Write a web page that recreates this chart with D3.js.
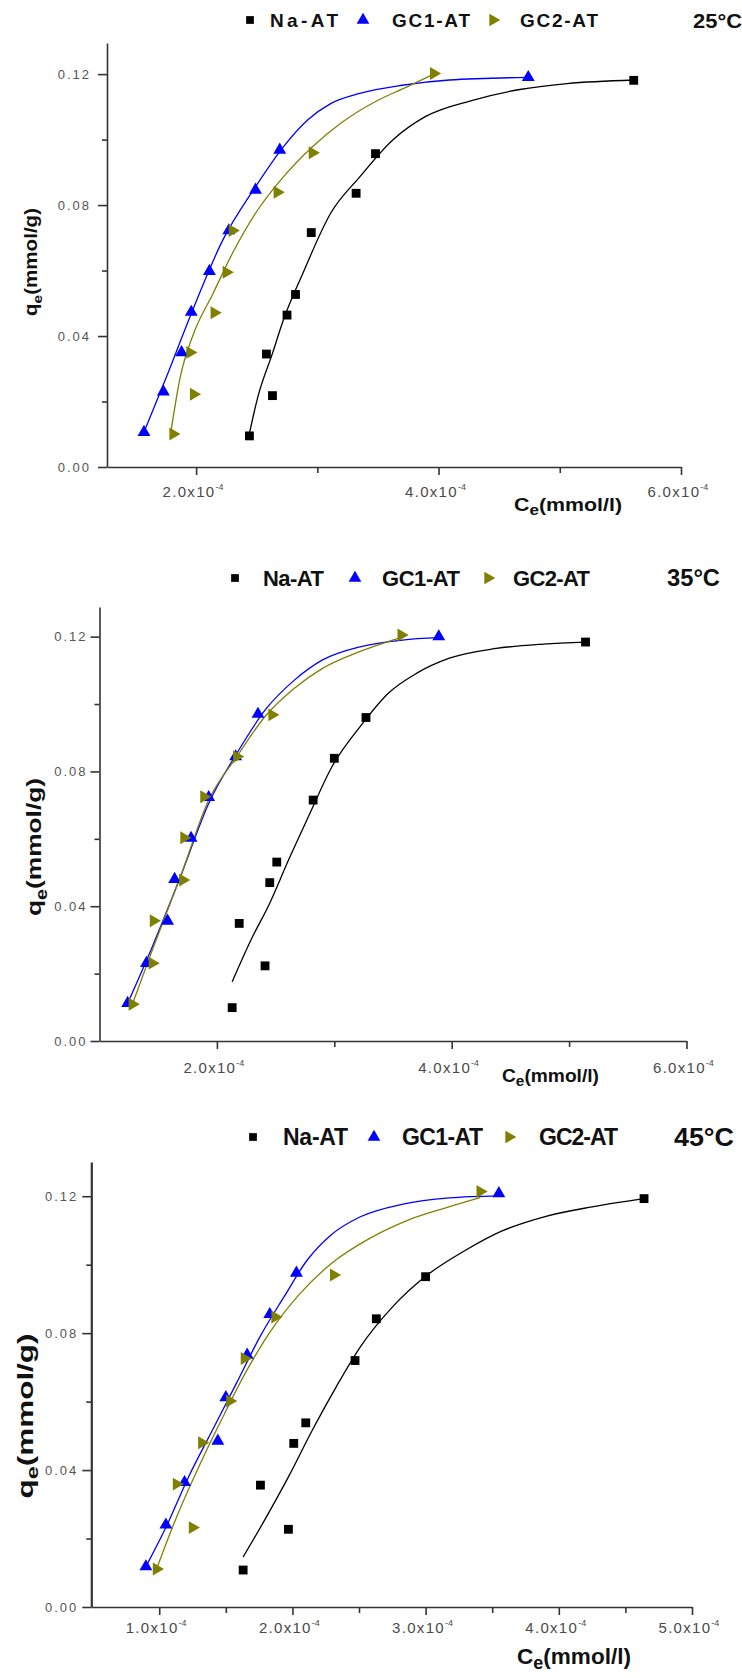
<!DOCTYPE html>
<html>
<head>
<meta charset="utf-8">
<script src="https://cdn.jsdelivr.net/npm/d3@7"></script>
<style>
  body { margin: 0; background: #fff; }
  svg { display: block; font-family: "Liberation Sans", Arial, sans-serif; }
  .tick text { fill: #555; }
  .domain, .tick line { stroke: #333; stroke-width: 1.6; }
</style>
</head>
<body>
<svg id="chart" width="742" height="1678"></svg>
<script>
// Ce in units of 1e-4 mmol/l, qe in mmol/g
const series_names = ['Na-AT', 'GC1-AT', 'GC2-AT'];
const series_colors = ['#000000', '#0000FF', '#808000'];
const temps = ['25°C', '35°C', '45°C'];

const y_major = [0, 0.04, 0.08, 0.12];
const y_minor = [0.02, 0.06, 0.10];
const x_major_25 = [2, 4, 6], x_minor_25 = [3, 5];
const x_major_35 = [2, 4, 6], x_minor_35 = [3, 5];
const x_major_45 = [1, 2, 3, 4, 5], x_minor_45 = [1.5, 2.5, 3.5, 4.5];

// 25°C
const na_25 = [[2.44,0.0095],[2.58,0.0345],[2.63,0.0218],[2.75,0.0464],[2.82,0.0527],[2.95,0.0716],[3.32,0.0836],[3.48,0.0957],[5.61,0.1181]];
const gc1_25 = [[1.57,0.0106],[1.73,0.0230],[1.88,0.0350],[1.96,0.0473],[2.11,0.0598],[2.27,0.0722],[2.49,0.0846],[2.69,0.0968],[4.74,0.1190]];
const gc2_25 = [[1.81,0.0101],[1.98,0.0222],[1.95,0.0350],[2.15,0.0471],[2.25,0.0595],[2.30,0.0722],[2.67,0.0839],[2.96,0.0960],[3.96,0.1202]];
const na_25_fit = [[2.44,0.0103],[2.51,0.0215],[2.63,0.0347],[2.72,0.0449],[2.88,0.0591],[3.11,0.0775],[3.35,0.0886],[3.62,0.0998],[3.89,0.1070],[4.28,0.1120],[4.67,0.1153],[5.06,0.1171],[5.61,0.1182]];
const gc1_25_fit = [[1.57,0.0106],[1.75,0.0270],[1.95,0.0459],[2.22,0.0693],[2.49,0.0856],[2.72,0.0978],[2.92,0.1060],[3.11,0.1110],[3.35,0.1141],[3.70,0.1166],[4.09,0.1182],[4.74,0.1190]];
const gc2_25_fit = [[1.79,0.0103],[1.87,0.0276],[1.98,0.0408],[2.14,0.0530],[2.30,0.0653],[2.49,0.0775],[2.72,0.0886],[2.96,0.0978],[3.19,0.1049],[3.50,0.1120],[3.74,0.1161],[3.96,0.1200]];

// 35°C
const na_35 = [[2.13,0.0099],[2.19,0.0349],[2.41,0.0223],[2.45,0.0470],[2.51,0.0531],[2.82,0.0715],[3.00,0.0839],[3.27,0.0960],[5.14,0.1184]];
const gc1_35 = [[1.24,0.0112],[1.40,0.0231],[1.58,0.0356],[1.64,0.0480],[1.78,0.0602],[1.93,0.0723],[2.16,0.0844],[2.35,0.0970],[3.89,0.1200]];
const gc2_35 = [[1.28,0.0109],[1.45,0.0231],[1.46,0.0357],[1.71,0.0478],[1.72,0.0603],[1.89,0.0725],[2.17,0.0844],[2.47,0.0968],[3.57,0.1205]];
const na_35_fit = [[2.13,0.0176],[2.29,0.0300],[2.45,0.0409],[2.61,0.0537],[2.78,0.0666],[2.98,0.0814],[3.22,0.0933],[3.46,0.1032],[3.70,0.1091],[3.98,0.1136],[4.38,0.1165],[4.78,0.1178],[5.14,0.1184]];
const gc1_35_fit = [[1.24,0.0112],[1.45,0.0280],[1.69,0.0488],[1.93,0.0705],[2.17,0.0854],[2.41,0.0982],[2.66,0.1071],[2.90,0.1131],[3.22,0.1170],[3.58,0.1190],[3.89,0.1197]];
const gc2_35_fit = [[1.28,0.0109],[1.45,0.0270],[1.69,0.0488],[1.93,0.0715],[2.17,0.0844],[2.41,0.0963],[2.66,0.1047],[2.90,0.1106],[3.22,0.1156],[3.57,0.1198]];

// 45°C
const na_45 = [[1.63,0.0108],[1.76,0.0356],[1.97,0.0227],[2.01,0.0478],[2.10,0.0538],[2.47,0.0720],[2.63,0.0842],[3.00,0.0965],[4.64,0.1193]];
const gc1_45 = [[0.90,0.0118],[1.05,0.0240],[1.19,0.0364],[1.44,0.0485],[1.50,0.0612],[1.66,0.0736],[1.83,0.0855],[2.03,0.0976],[3.55,0.1208]];
const gc2_45 = [[0.98,0.0111],[1.25,0.0232],[1.13,0.0359],[1.32,0.0480],[1.53,0.0602],[1.64,0.0726],[1.87,0.0847],[2.31,0.0970],[3.41,0.1214]];
const na_45_fit = [[1.63,0.0146],[1.79,0.0253],[1.97,0.0380],[2.15,0.0517],[2.33,0.0644],[2.51,0.0760],[2.75,0.0876],[3.00,0.0966],[3.29,0.1040],[3.57,0.1098],[3.89,0.1140],[4.25,0.1169],[4.64,0.1193]];
const gc1_45_fit = [[0.90,0.0118],[1.05,0.0232],[1.22,0.0380],[1.40,0.0517],[1.58,0.0654],[1.76,0.0792],[1.94,0.0908],[2.11,0.1013],[2.29,0.1087],[2.51,0.1140],[2.83,0.1177],[3.18,0.1195],[3.55,0.1201]];
const gc2_45_fit = [[0.98,0.0111],[1.12,0.0253],[1.30,0.0412],[1.47,0.0549],[1.65,0.0686],[1.83,0.0802],[2.04,0.0908],[2.29,0.1003],[2.58,0.1077],[2.86,0.1129],[3.15,0.1166],[3.41,0.1196]];

// layout of each panel (pixel positions of the original figure)
const panels = [
  { points: [na_25, gc1_25, gc2_25], fits: [na_25_fit, gc1_25_fit, gc2_25_fit],
    xMajor: x_major_25, xMinor: x_minor_25, xDom: [1.265, 6.0], yMax: 0.1295,
    x0: 107, x1: 681, yTop: 43, yBot: 467, xPad: 11, yPad: 7, axisW: 1.6,
    legY: 20, legSym: [250, 363, 493], legText: [270, 392, 520], legW: [68, 78, 78], legFs: 19,
    tempX: 693, tempW: 49, tempFs: 21,
    yt: { x: 32, y: 262, len: 108, fs: 18 }, xt: { x: 514, y: 511, len: 108, fs: 19 } },
  { points: [na_35, gc1_35, gc2_35], fits: [na_35_fit, gc1_35_fit, gc2_35_fit],
    xMajor: x_major_35, xMinor: x_minor_35, xDom: [1.0, 6.0], yMax: 0.1288,
    x0: 99.5, x1: 686.5, yTop: 607, yBot: 1041, xPad: 13, yPad: 3, axisW: 1.6,
    legY: 578, legSym: [235, 355, 488], legText: [263, 382, 513], legW: [61, 78, 77], legFs: 22,
    tempX: 667, tempW: 53, tempFs: 23,
    yt: { x: 35, y: 847, len: 138, fs: 21 }, xt: { x: 502, y: 1082, len: 97, fs: 18 } },
  { points: [na_45, gc1_45, gc2_45], fits: [na_45_fit, gc1_45_fit, gc2_45_fit],
    xMajor: x_major_45, xMinor: x_minor_45, xDom: [0.49, 5.0], yMax: 0.13,
    x0: 91.3, x1: 692, yTop: 1162, yBot: 1607, xPad: 7, yPad: 4, axisW: 2.2,
    legY: 1137, legSym: [253, 374, 509], legText: [283, 402, 539], legW: [65, 81, 79], legFs: 23,
    tempX: 674, tempW: 60, tempFs: 26,
    yt: { x: 26, y: 1416, len: 165, fs: 22 }, xt: { x: 517, y: 1664, len: 114, fs: 22 } }
];

const svg = d3.select('#chart');

function marker(i) {
  return i === 0 ? d3.symbol().type(d3.symbolSquare).size(78)()
                 : d3.symbol().type(d3.symbolTriangle).size(72)();
}
const rot = i => i === 2 ? ' rotate(90)' : '';

panels.forEach((p, pi) => {
  const g = svg.append('g');
  const x = d3.scaleLinear().domain(p.xDom).range([p.x0, p.x1]);
  const y = d3.scaleLinear().domain([0, p.yMax]).range([p.yBot, p.yTop]);

  // x axis
  g.append('g').attr('transform', `translate(0,${p.yBot})`)
    .call(d3.axisBottom(x).tickValues(p.xMinor).tickSize(6).tickFormat(''))
    .call(s => s.select('.domain').remove());
  const xa = g.append('g').attr('transform', `translate(0,${p.yBot})`)
    .call(d3.axisBottom(x).tickValues(p.xMajor).tickSize(8).tickSizeOuter(0)
      .tickPadding(p.xPad).tickFormat(d => d3.format('.1f')(d) + 'x10'));
  xa.selectAll('.tick text')
    .attr('font-size', 15).attr('text-anchor', 'start').attr('x', -34)
    .style('letter-spacing', '1.3px').style('fill', '#4a4a4a')
    .append('tspan').attr('dy', -7).attr('font-size', 9).style('letter-spacing', '0px').text('-4');

  // y axis
  g.append('g').attr('transform', `translate(${p.x0},0)`)
    .call(d3.axisLeft(y).tickValues(y_minor).tickSize(5).tickFormat(''))
    .call(s => s.select('.domain').remove());
  g.append('g').attr('transform', `translate(${p.x0},0)`)
    .call(d3.axisLeft(y).tickValues(y_major).tickSize(9).tickSizeOuter(0)
      .tickPadding(p.yPad).tickFormat(d3.format('.2f')))
    .call(s => s.select('.domain').style('stroke-width', p.axisW))
    .selectAll('.tick text').attr('font-size', 13).style('letter-spacing', '2px');

  // fitted curves
  const line = d3.line().x(d => x(d[0])).y(d => y(d[1])).curve(d3.curveMonotoneX);
  p.fits.forEach((f, i) => {
    g.append('path').datum(f).attr('d', line)
      .attr('fill', 'none').attr('stroke', series_colors[i]).attr('stroke-width', 1.3);
  });

  // points
  p.points.forEach((pts, i) => {
    g.selectAll(null).data(pts).join('path')
      .attr('d', marker(i))
      .attr('transform', d => `translate(${x(d[0])},${y(d[1])})` + rot(i))
      .attr('fill', series_colors[i]);
  });

  // legend
  series_names.forEach((name, i) => {
    g.append('path').attr('d', i === 0 ? d3.symbol().type(d3.symbolSquare).size(60)() : d3.symbol().type(d3.symbolTriangle).size(70)())
      .attr('transform', `translate(${p.legSym[i]},${p.legY})` + rot(i))
      .attr('fill', series_colors[i]);
    g.append('text').attr('x', p.legText[i]).attr('y', p.legY + p.legFs * 0.36)
      .attr('font-size', p.legFs).attr('font-weight', 'bold').attr('fill', '#111')
      .attr('textLength', p.legW[i]).attr('lengthAdjust', 'spacing')
      .text(name);
  });
  g.append('text').attr('x', p.tempX).attr('y', p.legY + p.tempFs * 0.36)
    .attr('font-size', p.tempFs).attr('font-weight', 'bold').attr('fill', '#111')
    .attr('textLength', p.tempW).attr('lengthAdjust', 'spacingAndGlyphs')
    .text(temps[pi]);

  // axis titles
  const yt = g.append('text')
    .attr('transform', `translate(${p.yt.x + p.yt.fs * 0.3},${p.yt.y}) rotate(-90)`)
    .attr('text-anchor', 'middle').attr('font-size', p.yt.fs).attr('font-weight', 'bold').attr('fill', '#111')
    .attr('textLength', p.yt.len).attr('lengthAdjust', 'spacingAndGlyphs');
  yt.append('tspan').text('q');
  yt.append('tspan').attr('dy', p.yt.fs * 0.25).attr('font-size', p.yt.fs * 0.75).text('e');
  yt.append('tspan').attr('dy', -p.yt.fs * 0.25).text('(mmol/g)');

  const xt = g.append('text').attr('x', p.xt.x).attr('y', p.xt.y)
    .attr('font-size', p.xt.fs).attr('font-weight', 'bold').attr('fill', '#111')
    .attr('textLength', p.xt.len).attr('lengthAdjust', 'spacingAndGlyphs');
  xt.append('tspan').text('C');
  xt.append('tspan').attr('dy', p.xt.fs * 0.22).attr('font-size', p.xt.fs * 0.8).text('e');
  xt.append('tspan').attr('dy', -p.xt.fs * 0.22).text('(mmol/l)');
});
</script>
</body>
</html>
